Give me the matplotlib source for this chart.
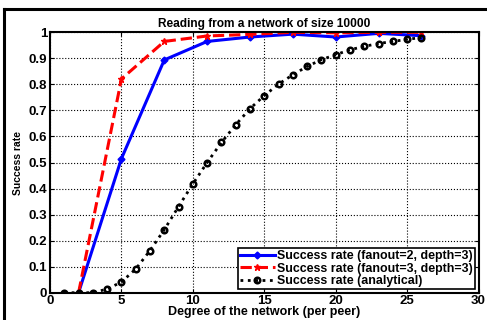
import matplotlib.pyplot as plt
from matplotlib.lines import Line2D

plt.rcParams['font.family'] = ['Liberation Sans', 'DejaVu Sans']
plt.rcParams['font.weight'] = 'bold'

# simulated points (every 3 peers)
x_sim = [2, 5, 8, 11, 14, 17, 20, 23, 26]
fanout2 = [0.0, 0.515, 0.894, 0.965, 0.982, 0.993, 0.982, 0.996, 0.987]
fanout3 = [0.0, 0.821, 0.965, 0.986, 0.992, 1.0, 0.998, 1.0, 1.0]

# analytical curve
x_ana = list(range(1, 27))
analytical = [0.0, 0.0, 0.0, 0.014, 0.041, 0.091, 0.162, 0.242, 0.331, 0.418,
              0.5, 0.577, 0.645, 0.707, 0.757, 0.801, 0.837, 0.869, 0.895,
              0.914, 0.933, 0.946, 0.957, 0.965, 0.973, 0.98]

fig = plt.figure(figsize=(4.87, 3.2), dpi=100)
ax = fig.add_axes([0.1027, 0.0853, 0.88, 0.8137])

ax.plot(x_sim, fanout2, '-', color='blue', lw=2.2, marker='D', markersize=3.5,
        label='Success rate (fanout=2, depth=3)')
ax.plot(x_sim, fanout3, '--', color='red', lw=2.2, marker='*', markersize=5,
        label='Success rate (fanout=3, depth=3)')
ax.plot(x_ana, analytical, ':', color='black', lw=2, marker='o', markersize=4,
        markerfacecolor='none', markeredgewidth=1.8,
        label='Success rate (analytical)')

ax.set_xlim(0, 30)
ax.set_ylim(0, 1)
ax.set_xticks([0, 5, 10, 15, 20, 25, 30])
ax.set_yticks([0, 0.1, 0.2, 0.3, 0.4, 0.5, 0.6, 0.7, 0.8, 0.9, 1])
ax.set_yticklabels(['0', '0.1', '0.2', '0.3', '0.4', '0.5', '0.6', '0.7', '0.8', '0.9', '1'])
ax.grid(True, color='black', linestyle=':', linewidth=0.8)
ax.tick_params(direction='in', top=True, right=True, labelsize=9.5, length=3, pad=2)
for s in ax.spines.values():
    s.set_linewidth(1.5)

ax.set_title('Reading from a network of size 10000', fontsize=8.6, fontweight='bold', pad=4)
ax.set_xlabel('Degree of the network (per peer)', fontsize=9, fontweight='bold', labelpad=-1)
ax.set_ylabel('Success rate', fontsize=7.5, fontweight='bold', labelpad=4)

leg = ax.legend(loc='lower right', fontsize=8.9, handlelength=2.8, borderpad=0.15,
                labelspacing=0.05, handletextpad=0.2, borderaxespad=0.3,
                fancybox=False, framealpha=1)
leg.get_frame().set_edgecolor('black')
leg.get_frame().set_linewidth(1.2)

# outer frame (top and left edges of the original figure box)
fig.add_artist(Line2D([4 / 487, 1], [1 - 9 / 320, 1 - 9 / 320], color='black', lw=2.2,
                      transform=fig.transFigure))
fig.add_artist(Line2D([4 / 487, 4 / 487], [0, 1 - 9 / 320], color='black', lw=2.2,
                      transform=fig.transFigure))

fig.savefig('out.png', dpi=100)
